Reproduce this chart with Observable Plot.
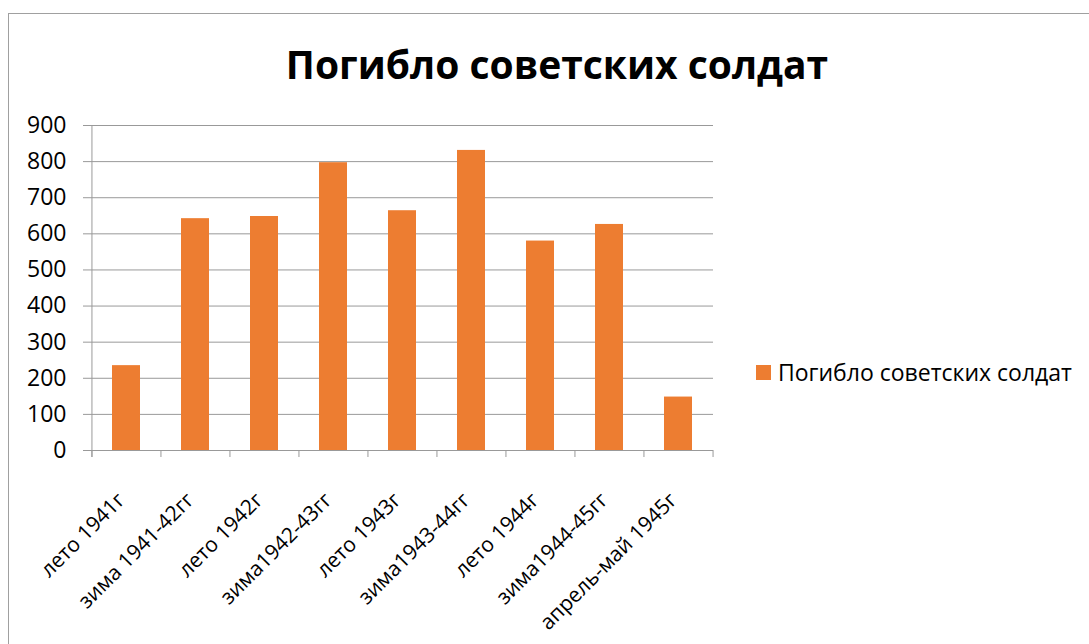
<!DOCTYPE html>
<html>
<head>
<meta charset="utf-8">
<script src="https://cdn.jsdelivr.net/npm/d3@7"></script>
<script src="https://cdn.jsdelivr.net/npm/@observablehq/plot@0.6"></script>
<style>
  html, body { margin: 0; padding: 0; background: #fff; }
  #wrap { position: relative; width: 1089px; height: 644px; overflow: hidden; font-family: "Open Sans", sans-serif; color: #000; }
  #border { position: absolute; left: 8px; top: 13px; width: 1200px; height: 800px; border: 1px solid #a0a0a0; box-sizing: border-box; }
  #title { position: absolute; left: 0; top: 44px; width: 1114px; text-align: center; font-size: 39px; font-weight: bold; line-height: 39px; white-space: nowrap; }
  #chart { position: absolute; left: 0; top: 100px; }
  #legend { position: absolute; left: 756px; top: 361px; display: flex; align-items: center; font-size: 23px; line-height: 23px; white-space: nowrap; }
  #legend .sw { width: 15px; height: 15px; margin-right: 7px; }
</style>
</head>
<body>
<div id="wrap">
  <div id="border"></div>
  <div id="title"></div>
  <div id="chart"></div>
  <div id="legend"><div class="sw"></div><span class="lbl"></span></div>
</div>
<script>
// ---- data ----
const title = "Погибло советских солдат";
const seriesName = "Погибло советских солдат";
const categories = ["лето 1941г", "зима 1941-42гг", "лето 1942г", "зима1942-43гг", "лето 1943г", "зима1943-44гг", "лето 1944г", "зима1944-45гг", "апрель-май 1945г"];
const values = [235, 642, 648, 797, 664, 831, 580, 626, 148];
const yTicks = [0, 100, 200, 300, 400, 500, 600, 700, 800, 900];
const barColor = "#ED7D31";
const gridColor = "#999999";

const data = categories.map((c, i) => ({cat: c, value: values[i]}));

document.getElementById("title").textContent = title;
document.querySelector("#legend .lbl").textContent = seriesName;
document.querySelector("#legend .sw").style.background = barColor;

const W = 730, H = 544, mL = 91, mR = 17, mT = 25, mB = 194;
const step = (W - mL - mR) / categories.length;
const plotH = H - mT - mB;

const chart = Plot.plot({
  width: W,
  height: H,
  marginLeft: mL,
  marginRight: mR,
  marginTop: mT,
  marginBottom: mB,
  style: {fontFamily: "'Open Sans', sans-serif", fontSize: "23px", background: "transparent", overflow: "visible", color: "#000"},
  x: {type: "band", domain: categories, paddingInner: 0.6, paddingOuter: 0.3, label: null},
  y: {domain: [0, 900], label: null},
  marks: [
    Plot.ruleY(yTicks, {stroke: gridColor, strokeWidth: 1, insetLeft: -8}),
    Plot.barY(data, {x: "cat", y: "value", fill: barColor}),
    // y axis line
    Plot.ruleX([categories[0]], {x: d => d, dx: -step / 2, stroke: gridColor, insetBottom: -7}),
    // category boundary ticks
    Plot.ruleX(categories, {x: d => d, dx: -step / 2, stroke: gridColor, insetTop: plotH, insetBottom: -7}),
    Plot.ruleX([categories[categories.length - 1]], {x: d => d, dx: step / 2, stroke: gridColor, insetTop: plotH, insetBottom: -7}),
    Plot.axisY({ticks: yTicks, tickSize: 0, tickPadding: 25, fontSize: 23, fill: "#000", tickFormat: d => String(d)}),
    Plot.axisX({tickSize: 0, tickPadding: 0, tickRotate: -45, textAnchor: "end", lineAnchor: "middle", dx: -5, dy: 46, fontSize: 21, fill: "#000"})
  ]
});
document.getElementById("chart").appendChild(chart);
</script>
</body>
</html>
